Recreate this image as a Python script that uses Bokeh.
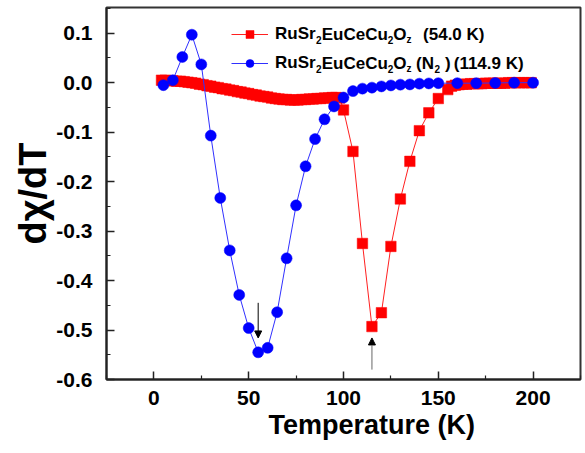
from bokeh.plotting import figure
from bokeh.models import (ColumnDataSource, FixedTicker, PrintfTickFormatter, Legend,
                          LegendItem, Label, Arrow, NormalHead, Range1d, Title)
from bokeh.embed import file_html
from bokeh.resources import INLINE

# ---- data ----
red_T = [4, 6, 8, 10, 12, 14, 16, 18, 20, 22, 24, 26, 28, 30, 32, 34, 36, 38, 40,
         42, 44, 46, 48, 50, 52, 54, 56, 58, 60, 62, 64, 66, 68, 70, 72, 74, 76, 78,
         80, 82, 84, 86, 88, 90, 92, 94, 96, 98,
         100, 105, 110, 115, 120, 125, 130, 135, 140, 145, 150, 155,
         157, 159, 161, 163, 165, 167, 169, 171, 173, 175, 177, 179, 181, 183, 185,
         187, 189, 191, 193, 195, 197, 199]
red_v = [0.005, 0.005, 0.004, 0.004, 0.003, 0.003, 0.002, 0.001, 0.000, -0.001,
         -0.003, -0.004, -0.006, -0.007, -0.009, -0.010, -0.012, -0.013, -0.015,
         -0.016, -0.018, -0.019, -0.021, -0.022, -0.024, -0.025, -0.027, -0.028,
         -0.029, -0.031, -0.032, -0.033, -0.034, -0.034, -0.035, -0.035, -0.035,
         -0.034, -0.034, -0.033, -0.033, -0.032, -0.032, -0.031, -0.031, -0.030,
         -0.030, -0.031,
         -0.055, -0.139, -0.325, -0.493, -0.465, -0.331, -0.235, -0.159, -0.097,
         -0.061, -0.032, -0.014,
         -0.007, -0.005, -0.004, -0.003, -0.003, -0.002, -0.002, -0.002, -0.002,
         -0.001, -0.001, -0.001, -0.001, -0.001, -0.001, 0.000, 0.000, 0.000,
         0.000, 0.000, 0.000, 0.000]

blue_T = [5, 10, 15, 20, 25, 30, 35, 40, 45, 50, 55, 60, 65, 70, 75, 80, 85, 90,
          95, 100, 105, 110, 115, 120, 125, 130, 135, 140, 145, 150,
          160, 170, 180, 190, 200]
blue_v = [-0.005, 0.005, 0.052, 0.097, 0.037, -0.107, -0.233, -0.339, -0.429,
          -0.496, -0.545, -0.536, -0.464, -0.355, -0.248, -0.169, -0.114, -0.074,
          -0.048, -0.030, -0.017, -0.012, -0.010, -0.0075, -0.0055, -0.004,
          -0.0035, -0.002, -0.0015, -0.001,
          -0.001, -0.001, -0.0005, 0.000, 0.000]

x_ticks = [0, 50, 100, 150, 200]
x_minor = [-25, 25, 75, 125, 175, 225]
y_ticks = [-0.6, -0.5, -0.4, -0.3, -0.2, -0.1, 0.0, 0.1]
y_minor = [-0.55, -0.45, -0.35, -0.25, -0.15, -0.05, 0.05, 0.15]

x_title = "Temperature (K)"
y_title = "dχ/dT"

arrow_T = [55, 115]
arrow_from = [-0.445, -0.580]
arrow_to = [-0.516, -0.516]
arrow_colors = ["#000000", "#666666"]

legend_red = [("RuSr", False), ("2", True), ("EuCeCu", False), ("2", True),
              ("O", False), ("z", True), (11.5, None), ("(54.0 K)", False)]
legend_blue = [("RuSr", False), ("2", True), ("EuCeCu", False), ("2", True),
               ("O", False), ("z", True), (4.5, None), ("(N", False), (0.5, None),
               ("2", True), (5.0, None), (")", False), (3.0, None),
               ("(114.9 K)", False)]

FONT = "Liberation Sans"
LEG_SIZE = 17
SUB_SIZE = 10

p = figure(width=583, height=452, output_backend="svg", toolbar_location=None,
           x_range=Range1d(-25, 225), y_range=Range1d(-0.6, 0.152),
           min_border_left=106, min_border_right=3, min_border_top=7,
           min_border_bottom=73)
p.background_fill_color = "white"
p.border_fill_color = "white"
p.outline_line_color = "#333333"
p.outline_line_width = 2
p.xgrid.visible = False
p.ygrid.visible = False

src_r = ColumnDataSource(dict(x=red_T, y=red_v))
src_b = ColumnDataSource(dict(x=blue_T, y=blue_v))

rl = p.line("x", "y", source=src_r, line_color="#ff2020", line_width=1)
rs = p.scatter("x", "y", source=src_r, marker="square", size=10.5,
               fill_color="#ff0000", line_color="#ff0000", line_width=0.5)
bl = p.line("x", "y", source=src_b, line_color="#3030ff", line_width=1)
bs = p.scatter("x", "y", source=src_b, marker="circle", size=11,
               fill_color="#0000ff", line_color="#0000ff", line_width=0.5)

for ax, ticks, minor in ((p.xaxis[0], x_ticks, x_minor), (p.yaxis[0], y_ticks, y_minor)):
    ax.ticker = FixedTicker(ticks=ticks, minor_ticks=minor)
    ax.axis_line_width = 2
    ax.axis_line_color = "#222222"
    ax.major_tick_in = 8
    ax.major_tick_out = 0
    ax.minor_tick_in = 4
    ax.minor_tick_out = 0
    ax.major_tick_line_color = "#222222"
    ax.minor_tick_line_color = "#222222"
    ax.major_tick_line_width = 1.5
    ax.minor_tick_line_width = 1.2
    ax.major_label_text_font = FONT
    ax.major_label_text_font_style = "bold"
    ax.major_label_text_font_size = "21px"
    ax.major_label_text_color = "black"

p.xaxis.major_label_standoff = 11
p.yaxis.major_label_standoff = 14
p.yaxis.formatter = PrintfTickFormatter(format="%.1f")

# axis titles, placed off-centre like the reference
p.add_layout(Title(text=x_title, align="left", offset=162, standoff=0,
                   text_font=FONT, text_font_style="bold", text_font_size="27px",
                   text_color="black"), "below")
p.add_layout(Title(text=y_title, align="center", offset=22, standoff=0,
                   text_font=FONT, text_font_style="bold", text_font_size="38px",
                   text_color="black"), "left")

# arrows
asrc = ColumnDataSource(dict(x=arrow_T, y0=arrow_from, y1=arrow_to, c=arrow_colors))
p.add_layout(Arrow(end=NormalHead(size=7, fill_color="black", line_color="black"),
                   x_start="x", y_start="y0", x_end="x", y_end="y1",
                   line_color="c", line_width=1, source=asrc))

# legend (glyph samples + first word); rest of label as rich text pieces
LX, LY = 125, 306
GW, STAND = 37, 7
ROW, SP = 20, 9
legend = Legend(items=[LegendItem(label="RuSr", renderers=[rl, rs]),
                       LegendItem(label="RuSr", renderers=[bl, bs])],
                location=(LX, LY), padding=0, margin=0, spacing=SP,
                glyph_width=GW, glyph_height=ROW, label_height=ROW,
                label_standoff=STAND, border_line_color=None,
                background_fill_alpha=0,
                label_text_font=FONT, label_text_font_style="bold",
                label_text_font_size=f"{LEG_SIZE}px", label_text_color="black")
p.add_layout(legend)

W = {"R": 722, "u": 611, "S": 667, "r": 389, "E": 667, "C": 722, "e": 556,
     "O": 778, "z": 500, "(": 333, ")": 333, " ": 278, "N": 722, ".": 278,
     "K": 722}
for d in "0123456789":
    W[d] = 556


def twidth(s, size):
    return sum(W.get(ch, 556) for ch in s) * size / 1000.0


top = LY + 2 * ROW + SP
for row, pieces in enumerate((legend_red, legend_blue)):
    cy = top - ROW / 2 - row * (ROW + SP)
    x = LX + GW + STAND
    for i, (txt, sub) in enumerate(pieces):
        if sub is None:
            x += txt
            continue
        size = SUB_SIZE if sub else LEG_SIZE
        if i > 0:
            p.add_layout(Label(x=x, y=cy - (5 if sub else 0), x_units="screen",
                               y_units="screen", text=txt, text_font=FONT,
                               text_font_style="bold", text_font_size=f"{size}px",
                               text_color="black", text_baseline="middle",
                               text_align="left"))
        x += twidth(txt, size)

with open("out.html", "w") as f:
    f.write(file_html(p, INLINE))
